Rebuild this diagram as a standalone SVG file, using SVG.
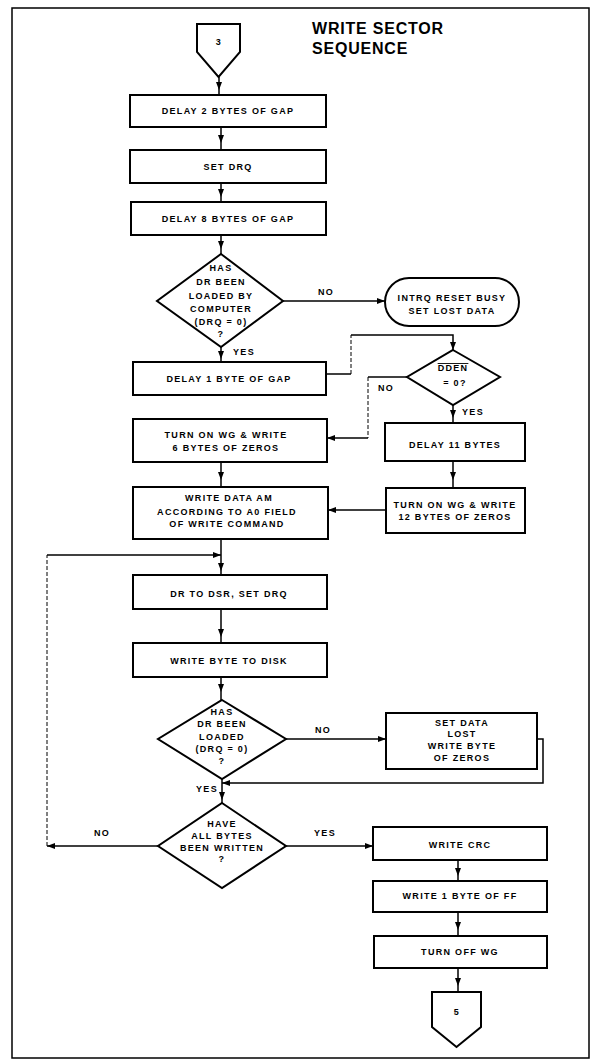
<svg xmlns="http://www.w3.org/2000/svg" width="591" height="1060" viewBox="0 0 591 1060">
<style>
.n{fill:#fff;stroke:#000;stroke-width:2}
.t{font-family:"Liberation Sans",Arial,sans-serif;font-size:9px;font-weight:bold;letter-spacing:1.3px;text-anchor:middle;fill:#000}
.title{font-family:"Liberation Sans",Arial,sans-serif;font-size:16px;font-weight:bold;letter-spacing:0.8px;fill:#000}
.c{fill:none;stroke:#000;stroke-width:1.5}
.f{fill:none;stroke:#000;stroke-width:1;stroke-dasharray:4 2}
.mid{marker-mid:url(#am)}
.end{marker-end:url(#ae)}
</style>
<defs>
<marker id="ae" markerUnits="userSpaceOnUse" markerWidth="8" markerHeight="6" refX="8" refY="3" orient="auto"><path d="M0,0 L8,3 L0,6 z" fill="#000"/></marker>
<marker id="am" markerUnits="userSpaceOnUse" markerWidth="8" markerHeight="6" refX="4" refY="3" orient="auto"><path d="M0,0 L8,3 L0,6 z" fill="#000"/></marker>
</defs>
<rect x="0" y="0" width="591" height="1060" fill="#fff"/>
<rect x="12" y="8" width="577" height="1050" fill="none" stroke="#000" stroke-width="1.5"/>
<g id="title">
<text class="title" x="312" y="34">WRITE SECTOR</text>
<text class="title" x="312" y="54">SEQUENCE</text>
</g>
<g id="connectors">
<path class="c mid" d="M219,77 L219,86 L219,95"/>
<path class="c mid" d="M221,127 L221,139 L221,150"/>
<path class="c mid" d="M221,183 L221,193 L221,202"/>
<path class="c mid" d="M221,235 L221,245 L221,254"/>
<path class="c end" d="M283,301 L385,301"/>
<path class="c mid" d="M221,347 L221,355 L221,362"/>
<path class="c" d="M326,374 L351,374"/>
<path class="f" d="M351,374 L351,335"/>
<path class="c end" d="M351,335 L453,335 L453,350"/>
<path class="c" d="M407,377 L368,377"/>
<path class="f" d="M368,377 L368,438"/>
<path class="c end" d="M368,438 L327,438"/>
<path class="c mid" d="M453,405 L453,414 L453,423"/>
<path class="c mid" d="M453,461 L453,476 L453,488"/>
<path class="c end" d="M386,510 L328,510"/>
<path class="c mid" d="M221,462 L221,476 L221,487"/>
<path class="c" d="M221,539 L221,555"/>
<path class="c mid" d="M221,555 L221,567 L221,575"/>
<path class="c end" d="M47,555 L221,555"/>
<path class="f" d="M47,846 L47,555"/>
<path class="c end" d="M158,846 L47,846"/>
<path class="c mid" d="M221,609 L221,633 L221,643"/>
<path class="c mid" d="M221,677 L221,688 L221,700"/>
<path class="c end" d="M286,739 L386,739"/>
<path class="c end" d="M537,739 L543,739 L543,783 L222,783"/>
<path class="c mid" d="M222,779 L222,796 L222,803"/>
<path class="c end" d="M286,846 L373,846"/>
<path class="c mid" d="M458,860 L458,872 L458,881"/>
<path class="c mid" d="M458,912 L458,926 L458,936"/>
<path class="c mid" d="M458,968 L458,982 L458,992"/>
</g>
<g id="labels">
<text class="t" x="326" y="295">NO</text>
<text class="t" x="244" y="355">YES</text>
<text class="t" x="386" y="391">NO</text>
<text class="t" x="473" y="415">YES</text>
<text class="t" x="323" y="733">NO</text>
<text class="t" x="207" y="792">YES</text>
<text class="t" x="102" y="836">NO</text>
<text class="t" x="325" y="836">YES</text>
</g>
<g id="start">
<polygon class="n" points="197,24 240,24 240,52 218.5,77 197,52"/>
<text class="t" x="219" y="45">3</text>
</g>
<g id="delay2">
<rect class="n" x="130" y="95" width="196" height="32"/>
<text class="t" x="228" y="114">DELAY 2 BYTES OF GAP</text>
</g>
<g id="setdrq">
<rect class="n" x="130" y="150" width="196" height="33"/>
<text class="t" x="228" y="170">SET DRQ</text>
</g>
<g id="delay8">
<rect class="n" x="131" y="202" width="195" height="33"/>
<text class="t" x="228" y="222">DELAY 8 BYTES OF GAP</text>
</g>
<g id="dec1">
<polygon class="n" points="221,254 283,301 221,347 157,301"/>
<text class="t" x="221" y="271">HAS</text>
<text class="t" x="221" y="285">DR BEEN</text>
<text class="t" x="221" y="299">LOADED BY</text>
<text class="t" x="221" y="312">COMPUTER</text>
<text class="t" x="221" y="325">(DRQ = 0)</text>
<text class="t" x="221" y="337">?</text>
</g>
<g id="intrq">
<rect class="n" x="385" y="278" width="134" height="48" rx="24"/>
<text class="t" x="452" y="301">INTRQ RESET BUSY</text>
<text class="t" x="452" y="314">SET LOST DATA</text>
</g>
<g id="delay1">
<rect class="n" x="133" y="362" width="193" height="33"/>
<text class="t" x="229" y="382">DELAY 1 BYTE OF GAP</text>
</g>
<g id="dec2">
<polygon class="n" points="453,350 500,377 453,405 407,377"/>
<text class="t" x="453" y="371" text-decoration="overline">DDEN</text>
<text class="t" x="455" y="386">= 0?</text>
</g>
<g id="wg6">
<rect class="n" x="133" y="419" width="194" height="43"/>
<text class="t" x="226" y="438">TURN ON WG &amp; WRITE</text>
<text class="t" x="226" y="451">6 BYTES OF ZEROS</text>
</g>
<g id="delay11">
<rect class="n" x="385" y="423" width="140" height="38"/>
<text class="t" x="455" y="448">DELAY 11 BYTES</text>
</g>
<g id="dataam">
<rect class="n" x="133" y="487" width="195" height="52"/>
<text class="t" x="229" y="501">WRITE DATA AM</text>
<text class="t" x="227" y="515">ACCORDING TO A0 FIELD</text>
<text class="t" x="227" y="527">OF WRITE COMMAND</text>
</g>
<g id="wg12">
<rect class="n" x="386" y="488" width="139" height="45"/>
<text class="t" x="455" y="508">TURN ON WG &amp; WRITE</text>
<text class="t" x="455" y="520">12 BYTES OF ZEROS</text>
</g>
<g id="drdsr">
<rect class="n" x="133" y="575" width="194" height="34"/>
<text class="t" x="229" y="597">DR TO DSR, SET DRQ</text>
</g>
<g id="writebyte">
<rect class="n" x="133" y="643" width="194" height="34"/>
<text class="t" x="229" y="664">WRITE BYTE TO DISK</text>
</g>
<g id="dec3">
<polygon class="n" points="222,700 286,739 222,779 158,739"/>
<text class="t" x="222" y="715">HAS</text>
<text class="t" x="222" y="727">DR BEEN</text>
<text class="t" x="222" y="740">LOADED</text>
<text class="t" x="222" y="752">(DRQ = 0)</text>
<text class="t" x="222" y="764">?</text>
</g>
<g id="lostdata">
<rect class="n" x="386" y="713" width="151" height="56"/>
<text class="t" x="462" y="726">SET DATA</text>
<text class="t" x="462" y="737">LOST</text>
<text class="t" x="462" y="749">WRITE BYTE</text>
<text class="t" x="462" y="761">OF ZEROS</text>
</g>
<g id="dec4">
<polygon class="n" points="222,803 286,846 222,888 158,846"/>
<text class="t" x="222" y="827">HAVE</text>
<text class="t" x="222" y="839">ALL BYTES</text>
<text class="t" x="222" y="851">BEEN WRITTEN</text>
<text class="t" x="222" y="862">?</text>
</g>
<g id="crc">
<rect class="n" x="373" y="827" width="174" height="33"/>
<text class="t" x="460" y="848">WRITE CRC</text>
</g>
<g id="ff">
<rect class="n" x="373" y="881" width="174" height="31"/>
<text class="t" x="460" y="899">WRITE 1 BYTE OF FF</text>
</g>
<g id="wgoff">
<rect class="n" x="374" y="936" width="173" height="32"/>
<text class="t" x="460" y="955">TURN OFF WG</text>
</g>
<g id="end">
<polygon class="n" points="432,992 481,992 481,1027 456.5,1047 432,1027"/>
<text class="t" x="457" y="1015">5</text>
</g>
</svg>
